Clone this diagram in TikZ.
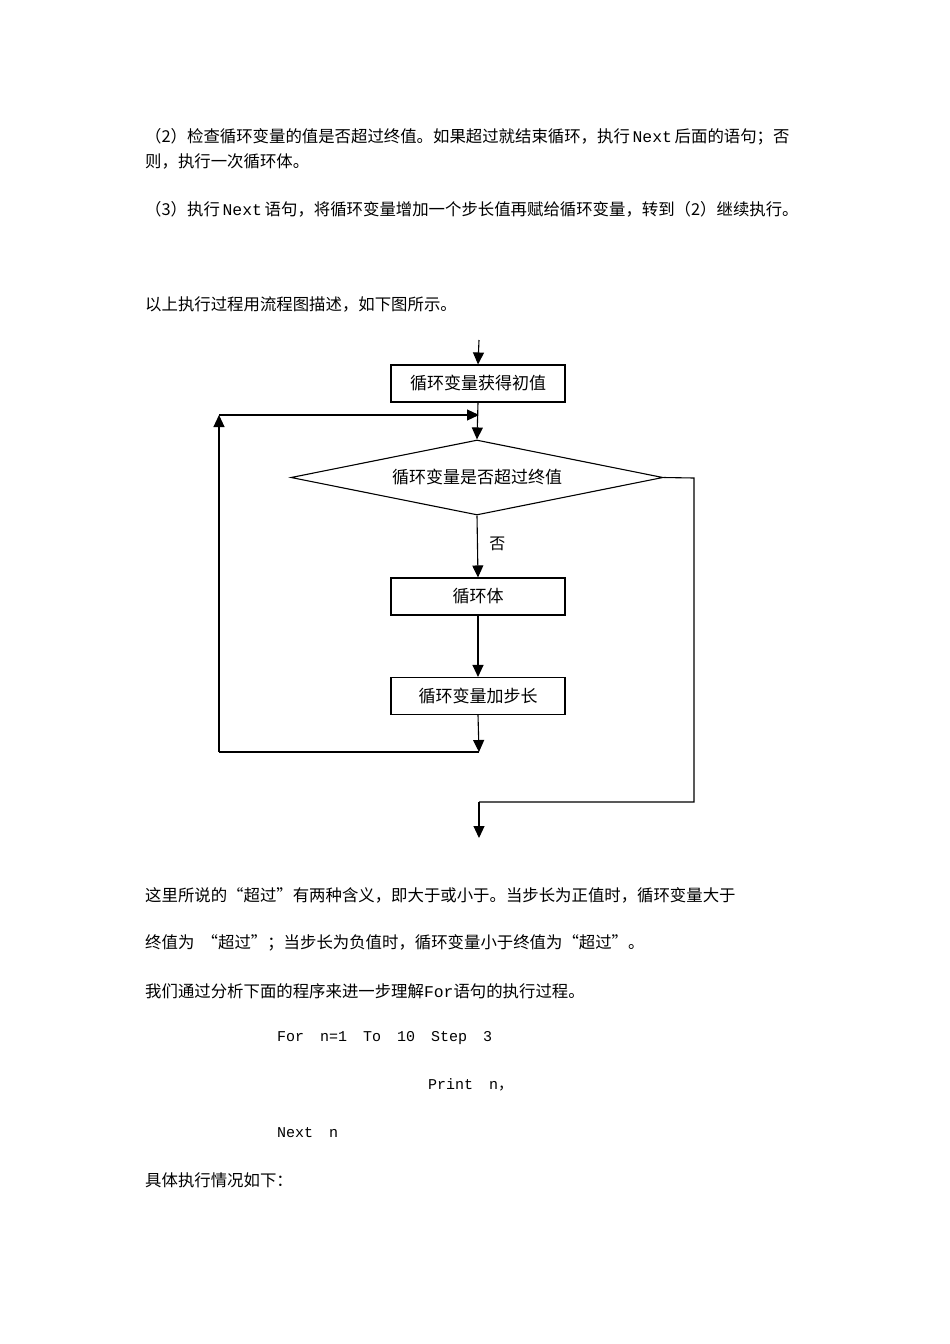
\documentclass[tikz,border=0pt]{standalone}
\usepackage{fontspec}
\setmainfont{Noto Sans CJK SC}
\newfontfamily\cjk{Noto Sans CJK SC}
\newfontfamily\mono{Liberation Mono}
\usetikzlibrary{shapes.geometric,arrows.meta}
\begin{document}
\begin{tikzpicture}[x=1pt,y=-1pt,
  txt/.style={anchor=west,inner sep=0pt,font=\cjk\fontsize{16.4}{18}\selectfont},
  code/.style={anchor=west,inner sep=0pt,font=\mono\fontsize{15}{17}\selectfont},
  box/.style={draw,line width=1.1pt,minimum width=174pt,minimum height=37pt,inner sep=0pt,font=\cjk\fontsize{17}{19}\selectfont},
  arr/.style={line width=1.1pt,-{Triangle[length=12pt,width=11pt]}},
  ln/.style={line width=1.1pt}]
\useasboundingbox (0,0) rectangle (950,1344);
\node[txt] (t1) at (145,137) {（2）检查循环变量的值是否超过终值。如果超过就结束循环，执行\,{\mono Next}\,后面的语句；否};
\node[txt] (t2) at (145,161) {则，执行一次循环体。};
\node[txt] (t3) at (145,209) {（3）执行\,{\mono Next}\,语句，将循环变量增加一个步长值再赋给循环变量，转到（2）继续执行。};
\node[txt] (t4) at (145,304) {以上执行过程用流程图描述，如下图所示。};

\coordinate (top) at (479,340);
\node[box] (b1) at (478,383.5) {循环变量获得初值};
\node[diamond,draw,line width=1.1pt,minimum width=372pt,minimum height=75pt,inner sep=0pt,aspect=4.96,font=\cjk\fontsize{17}{19}\selectfont] (d) at (477,477.5) {循环变量是否超过终值};
\node[box] (b2) at (478,596.5) {循环体};
\node[box] (b3) at (478,696) {循环变量加步长};
\coordinate (j) at (479,415);
\coordinate (bl) at (479,752);
\coordinate (ll) at (219,752);
\coordinate (lt) at (219,415);
\coordinate (r1) at (694,478);
\coordinate (r2) at (694,802);
\coordinate (r3) at (479,802);
\coordinate (end) at (479,838);

\draw[arr] (top) -- (b1.north);
\draw[arr] (b1.south) -- (d.north);
\draw[arr] (d.south) -- node[right=8pt,pos=0.45,font=\cjk\fontsize{16}{18}\selectfont]{否} (b2.north);
\draw[arr] (b2.south) -- (b3.north);
\draw[arr] (b3.south) -- (bl);
\draw[ln] (bl) -- (ll);
\draw[arr] (ll) -- (lt);
\draw[arr] (lt) -- (j);
\draw[ln] (d.east) -- (r1) -- (r2) -- (r3);
\draw[arr] (r3) -- (end);

\node[txt] (t5) at (145,895) {这里所说的“超过”有两种含义，即大于或小于。当步长为正值时，循环变量大于};
\node[txt] (t6) at (145,943) {终值为\ \ “超过”；当步长为负值时，循环变量小于终值为“超过”。};
\node[txt] (t7) at (145,991) {我们通过分析下面的程序来进一步理解{\mono For}语句的执行过程。};
\node[code] (c1) at (277,1038) {For\hspace{16pt}n=1\hspace{16pt}To\hspace{16pt}10\hspace{16pt}Step\hspace{16pt}3};
\node[code] (c2) at (428,1085) {Print\hspace{16pt}n{\cjk ，}};
\node[code] (c3) at (277,1133) {Next\hspace{16pt}n};
\node[txt] (t8) at (145,1180) {具体执行情况如下：};
\end{tikzpicture}
\end{document}
